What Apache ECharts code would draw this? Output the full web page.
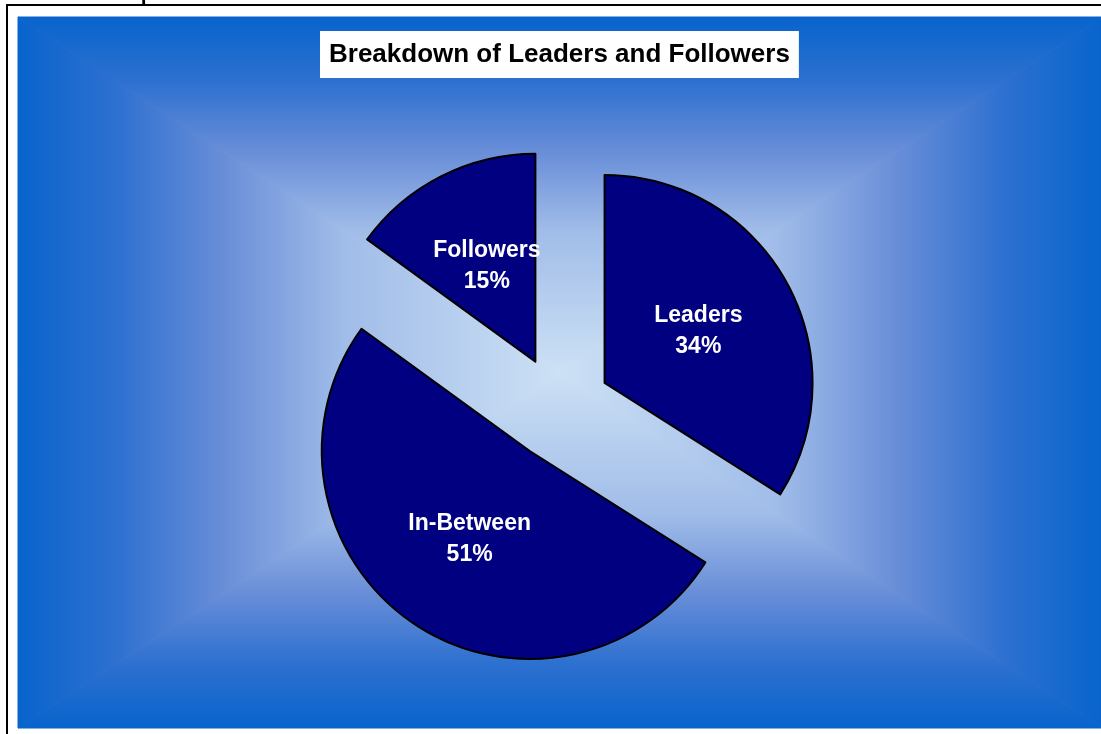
<!DOCTYPE html>
<html>
<head>
<meta charset="utf-8">
<style>
html,body{margin:0;padding:0;background:#fff;}
#chart{width:1101px;height:734px;}
</style>
<script src="https://cdn.jsdelivr.net/npm/echarts@6/dist/echarts.min.js"></script>
</head>
<body>
<div id="chart"></div>
<script>
const chartTitle = 'Breakdown of Leaders and Followers';
const categories = ['Leaders', 'In-Between', 'Followers'];
const values = [34, 51, 15];

const chart = echarts.init(document.getElementById('chart'), null, {renderer: 'canvas'});

// plot-area rectangular gradient (light centre, blue edges)
const L = 18, T = 17, R = 1102, B = 728;
const cx = (L + R) / 2, cy = (T + B) / 2;
const stops = [
  {offset: 0, color: 'rgb(8,100,204)'},
  {offset: 0.18, color: 'rgb(45,112,208)'},
  {offset: 0.38, color: 'rgb(105,142,216)'},
  {offset: 0.6, color: 'rgb(160,188,232)'},
  {offset: 1, color: 'rgb(205,225,245)'}
];
function grad(x, y, x2, y2) {
  return {type: 'linear', x: x, y: y, x2: x2, y2: y2, global: true, colorStops: stops};
}
function tri(points, g) {
  return {type: 'polygon', silent: true, shape: {points: points},
    style: {fill: g, stroke: g, lineWidth: 1}};
}

const option = {
  animation: false,
  backgroundColor: '#ffffff',
  title: {
    text: chartTitle,
    left: 320,
    top: 31,
    backgroundColor: '#ffffff',
    padding: [11, 9, 10, 9],
    textStyle: {
      fontFamily: 'Liberation Sans, Arial, sans-serif',
      fontWeight: 'bold',
      fontSize: 26,
      color: '#000000'
    }
  },
  graphic: [
    {type: 'group', silent: true, z: -10, children: [
      tri([[L, T], [R, T], [cx, cy]], grad(0, T, 0, cy)),
      tri([[L, B], [R, B], [cx, cy]], grad(0, B, 0, cy)),
      tri([[L, T], [L, B], [cx, cy]], grad(L, 0, cx, 0)),
      tri([[R, T], [R, B], [cx, cy]], grad(R, 0, cx, 0)),
      {type: 'line', shape: {x1: 7, y1: 5, x2: 1101, y2: 5}, style: {stroke: '#000', lineWidth: 2}},
      {type: 'line', shape: {x1: 7, y1: 4, x2: 7, y2: 734}, style: {stroke: '#000', lineWidth: 2}},
      {type: 'text', x: 141, y: 5, style: {text: 'p', fill: '#000', font: 'bold 20px "Liberation Serif", serif', verticalAlign: 'bottom'}}
    ]}
  ],
  series: [{
    type: 'pie',
    center: [559, 408],
    radius: 208,
    startAngle: 90,
    clockwise: true,
    selectedMode: 'multiple',
    selectedOffset: 52,
    avoidLabelOverlap: false,
    emphasis: {disabled: true},
    itemStyle: {color: '#000080', borderColor: '#000000', borderWidth: 2},
    label: {
      show: true,
      position: 'inside',
      formatter: '{b}\n{d}%',
      color: '#ffffff',
      fontFamily: 'Liberation Sans, Arial, sans-serif',
      fontWeight: 'bold',
      fontSize: 23,
      lineHeight: 31,
      align: 'center'
    },
    labelLine: {show: false},
    data: categories.map((c, i) => ({name: c, value: values[i], selected: true}))
  }]
};
chart.setOption(option);
</script>
</body>
</html>
